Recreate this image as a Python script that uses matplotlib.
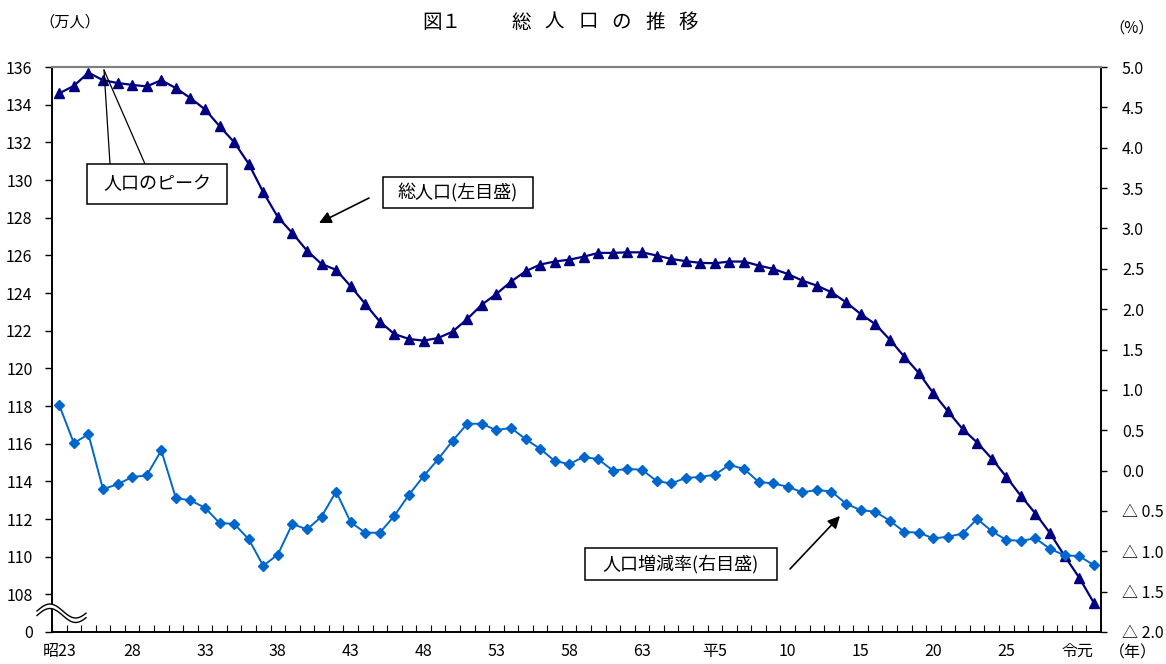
import numpy as np
import matplotlib
matplotlib.use("Agg")
import matplotlib.pyplot as plt
from matplotlib.patches import Rectangle, Polygon
from matplotlib.lines import Line2D

plt.rcParams['font.family'] = ['Noto Sans CJK JP', 'DejaVu Sans']

W, H = 1166, 664

# 年次 昭23(1948) ～ 令元(2019)
nendo = (["昭%d" % n for n in range(23, 64)]
         + ["平元"] + ["平%d" % n for n in range(2, 31)] + ["令元"])

# 総人口（万人）左目盛
sojinko = [134.6, 135.0, 135.7, 135.3, 135.15, 135.05, 134.97, 135.3, 134.88, 134.35,
           133.75, 132.86, 132.01, 130.86, 129.35, 128.03, 127.18, 126.25, 125.54, 125.23,
           124.36, 123.42, 122.48, 121.82, 121.56, 121.47, 121.61, 121.95, 122.62, 123.38,
           123.95, 124.6, 125.15, 125.51, 125.67, 125.77, 125.93, 126.13, 126.13, 126.16,
           126.16, 125.99, 125.81, 125.69, 125.6, 125.58, 125.67, 125.67, 125.46, 125.28,
           125.01, 124.66, 124.39, 124.04, 123.51, 122.89, 122.35, 121.53, 120.62, 119.75,
           118.67, 117.71, 116.78, 116.06, 115.21, 114.24, 113.23, 112.29, 111.25, 110.04,
           108.89, 107.56]

# 人口増減率（％）右目盛
zogenritsu = [0.81, 0.34, 0.45, -0.23, -0.17, -0.08, -0.06, 0.25, -0.34, -0.37,
              -0.46, -0.65, -0.66, -0.85, -1.18, -1.04, -0.66, -0.73, -0.57, -0.26,
              -0.64, -0.77, -0.77, -0.56, -0.30, -0.07, 0.14, 0.37, 0.58, 0.58,
              0.50, 0.53, 0.39, 0.27, 0.12, 0.08, 0.17, 0.14, 0.00, 0.02,
              0.01, -0.13, -0.16, -0.09, -0.08, -0.05, 0.07, 0.02, -0.14, -0.16,
              -0.20, -0.27, -0.24, -0.26, -0.41, -0.49, -0.51, -0.62, -0.76, -0.77,
              -0.84, -0.82, -0.78, -0.60, -0.75, -0.86, -0.87, -0.84, -0.97, -1.05,
              -1.06, -1.17]

xlabel_idx = [0, 5, 10, 15, 20, 25, 30, 35, 40, 45, 50, 55, 60, 65, 71]
xlabel_txt = ["昭23", "28", "33", "38", "43", "48", "53", "58", "63",
              "平5", "10", "15", "20", "25", "令元"]

left_ticks = list(range(106, 137, 2))
left_labels = ["0"] + [str(v) for v in range(108, 137, 2)]
right_ticks = [5.0, 4.5, 4.0, 3.5, 3.0, 2.5, 2.0, 1.5, 1.0, 0.5, 0.0,
               -0.5, -1.0, -1.5, -2.0]
right_labels = ["%.1f" % v if v >= 0 else "△ %.1f" % -v for v in right_ticks]


def fx(px):
    return px / W


def fy(py):
    return 1 - py / H


fig = plt.figure(figsize=(W / 100, H / 100), dpi=100)
ax = fig.add_axes([fx(52), fy(632), (1101 - 52) / W, (632 - 67) / H])
ax2 = ax.twinx()

x = np.arange(len(nendo))
ax2.plot(x, zogenritsu, color='#0066CC', lw=1.4, marker='D', ms=5.2, zorder=3)
ax.plot(x, sojinko, color='#000080', lw=1.6, marker='^', ms=7.5, zorder=3)

ax.set_xlim(-0.5, len(nendo) - 0.5)
ax.set_ylim(106, 136)
ax2.set_ylim(-2.0, 5.0)

ax.set_xticks(xlabel_idx)
ax.set_xticklabels(xlabel_txt, fontsize=11.5)
ax.set_xticks(np.arange(-0.5, len(nendo), 1.0), minor=True)
ax.tick_params(axis='x', which='major', length=0, pad=8)
ax.tick_params(axis='x', which='minor', direction='in', length=5, width=0.8)
ax.get_xticklabels()[-1].set_ha('right')

ax.set_yticks(left_ticks)
ax.set_yticklabels(left_labels, fontsize=11.5)
ax.tick_params(axis='y', direction='out', length=5, width=1, pad=9)
ax2.set_yticks(right_ticks)
ax2.set_yticklabels(right_labels, fontsize=11.5)
ax2.tick_params(axis='y', direction='out', length=4, width=1, pad=11)

for a in (ax, ax2):
    a.spines['top'].set_color('#808080')
    a.spines['top'].set_linewidth(1.5)
    for s in ('left', 'right', 'bottom'):
        a.spines[s].set_color('black')
        a.spines[s].set_linewidth(1.2)

# 軸の省略記号
t = np.linspace(-0.1, 0.85, 60)
wx = 37 + (t + 0.1) / 0.95 * 49
wy = 613 - 7 * np.cos(2 * np.pi * (t - 0.15))
upper = np.column_stack([fx(wx), fy(wy - 2)])
lower = np.column_stack([fx(wx), fy(wy + 2.5)])
fig.add_artist(Polygon(np.vstack([upper, lower[::-1]]), closed=True,
                       facecolor='white', edgecolor='none',
                       transform=fig.transFigure, zorder=5))
fig.add_artist(Line2D(upper[:, 0], upper[:, 1], color='black', lw=1,
                      transform=fig.transFigure, zorder=6))
fig.add_artist(Line2D(lower[:, 0], lower[:, 1], color='black', lw=1,
                      transform=fig.transFigure, zorder=6))

# タイトル・単位
fig.text(fx(442), fy(22), "図１", fontsize=14, ha='center', va='center')
for i, ch in enumerate("総人口の推移"):
    fig.text(fx(521 + 33.5 * i), fy(22), ch, fontsize=14, ha='center', va='center')
fig.text(fx(70), fy(22), "（万人）", fontsize=11, ha='center', va='center')
fig.text(fx(1132), fy(28), "（%）", fontsize=11, ha='center', va='center')
fig.text(fx(1133), fy(653), "（年）", fontsize=11.5, ha='center', va='center')


def label_box(x0, y0, x1, y1, text):
    fig.add_artist(Rectangle((fx(x0), fy(y1)), fx(x1) - fx(x0), (y1 - y0) / H,
                             facecolor='white', edgecolor='black', lw=1.1,
                             transform=fig.transFigure, zorder=7))
    fig.text(fx((x0 + x1) / 2), fy((y0 + y1) / 2), text, fontsize=13,
             ha='center', va='center', zorder=8)


label_box(87, 164, 227, 204, "人口のピーク")
label_box(383, 177, 533, 208, "総人口(左目盛)")
label_box(585, 548, 777, 580, "人口増減率(右目盛)")

for sx, sy in [(110, 164), (145, 164)]:
    ax.annotate('', xy=(fx(104), fy(70)), xytext=(fx(sx), fy(sy)),
                xycoords='figure fraction', textcoords='figure fraction',
                arrowprops=dict(arrowstyle='-', color='black', lw=0.9,
                                shrinkA=0, shrinkB=0))

ax.annotate('', xy=(fx(319), fy(223)), xytext=(fx(369), fy(198)),
            xycoords='figure fraction', textcoords='figure fraction',
            arrowprops=dict(arrowstyle='-|>', color='black', lw=1.2,
                            mutation_scale=18, shrinkA=0, shrinkB=0))
ax.annotate('', xy=(fx(840), fy(516)), xytext=(fx(790), fy(569)),
            xycoords='figure fraction', textcoords='figure fraction',
            arrowprops=dict(arrowstyle='-|>', color='black', lw=1.2,
                            mutation_scale=18, shrinkA=0, shrinkB=0))

fig.savefig("out.png", dpi=100)
